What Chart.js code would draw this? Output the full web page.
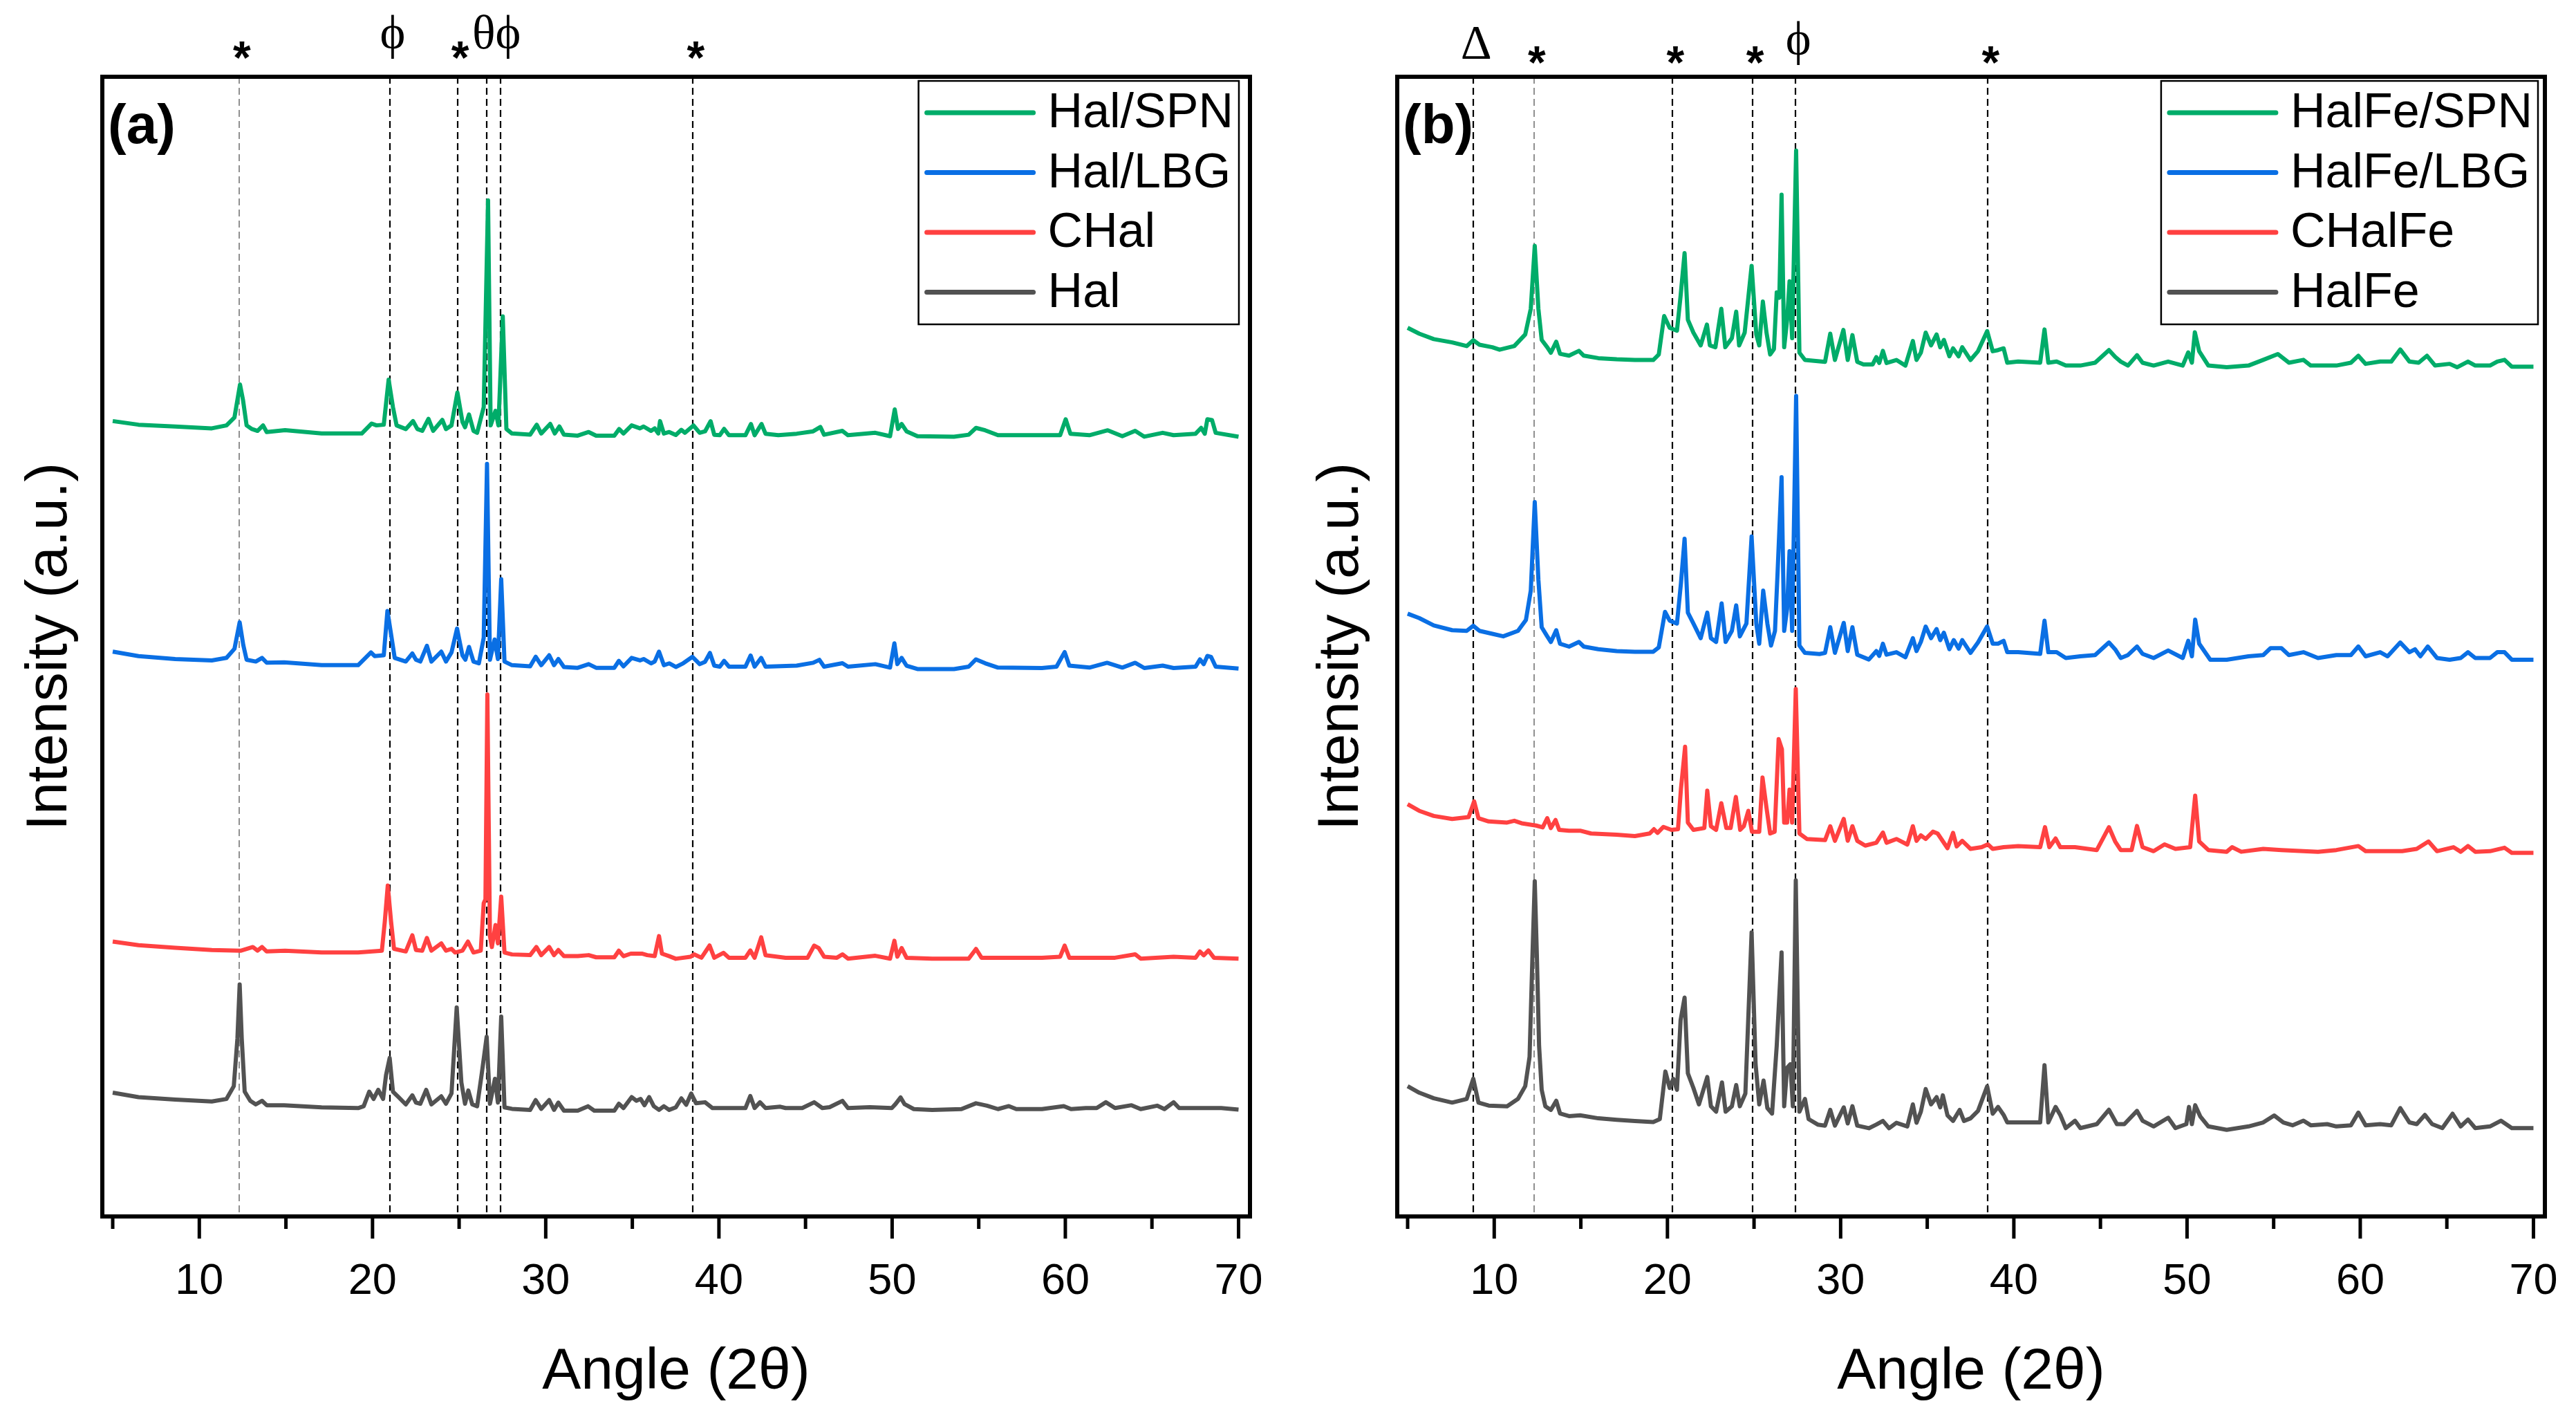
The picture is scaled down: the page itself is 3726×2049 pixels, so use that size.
<!DOCTYPE html>
<html><head><meta charset="utf-8">
<script src="https://cdn.jsdelivr.net/npm/chart.js@4.4.1/dist/chart.umd.min.js"></script>
<style>
html,body{margin:0;padding:0;background:#fff;width:3726px;height:2049px;overflow:hidden}
canvas{position:absolute;top:0}
#ca{left:0}#cb{left:1863px}
</style></head>
<body>
<canvas id="ca" width="1863" height="2049"></canvas>
<canvas id="cb" width="1863" height="2049"></canvas>
<script>
// ---------- DATA: [angle 2θ, intensity (a.u., offset-stacked)] ----------
const halSpn = [[5.0,69.79],[6.49,69.47],[8.61,69.31],[10.72,69.15],[11.57,69.41],[12.03,70.11],[12.35,73.0],[12.52,71.66],[12.73,69.41],[13.04,69.09],[13.36,68.93],[13.68,69.41],[13.89,68.83],[14.95,68.99],[17.06,68.70],[19.38,68.70],[19.95,69.57],[20.23,69.41],[20.65,69.47],[20.93,73.42],[21.18,71.01],[21.39,69.41],[21.92,69.09],[22.34,69.79],[22.59,69.09],[22.87,68.93],[23.23,69.99],[23.50,68.93],[24.03,69.89],[24.24,69.09],[24.56,69.41],[24.90,72.30],[25.19,69.73],[25.34,69.25],[25.57,70.37],[25.83,68.93],[26.04,68.76],[26.42,71.01],[26.67,89.16],[26.82,69.41],[27.10,70.69],[27.27,69.41],[27.52,78.98],[27.73,69.09],[28.05,68.70],[29.10,68.60],[29.48,69.47],[29.74,68.70],[30.26,69.54],[30.52,68.70],[30.79,69.31],[31.05,68.60],[31.85,68.51],[32.48,68.83],[32.91,68.51],[33.96,68.51],[34.24,69.09],[34.49,68.70],[34.96,69.41],[35.44,69.15],[35.65,69.31],[36.08,68.93],[36.29,69.15],[36.50,68.70],[36.60,69.79],[36.82,68.70],[37.13,68.83],[37.51,68.57],[37.83,69.02],[38.04,68.76],[38.53,69.40],[38.89,68.76],[39.20,68.89],[39.52,69.78],[39.73,68.59],[40.05,68.55],[40.30,69.10],[40.58,68.55],[41.53,68.55],[41.85,69.53],[42.06,68.55],[42.46,69.53],[42.69,68.68],[43.43,68.55],[44.49,68.68],[45.44,68.89],[45.86,69.27],[46.07,68.59],[47.13,68.93],[47.45,68.55],[49.03,68.76],[49.88,68.46],[50.15,70.81],[50.34,69.10],[50.55,69.53],[50.83,68.89],[51.46,68.46],[53.57,68.42],[54.42,68.59],[54.84,69.19],[55.37,68.98],[56.11,68.55],[58.65,68.55],[59.70,68.55],[60.02,69.95],[60.29,68.68],[61.39,68.55],[62.45,68.98],[63.29,68.46],[64.03,68.93],[64.56,68.42],[65.62,68.76],[66.25,68.55],[67.52,68.68],[67.84,69.19],[68.05,68.68],[68.20,69.95],[68.47,69.87],[68.68,68.76],[70.0,68.42]];

const halLbg = [[5.0,49.56],[6.49,49.17],[8.61,48.91],[10.72,48.79],[11.57,49.01],[12.03,49.81],[12.33,52.13],[12.54,50.13],[12.73,48.85],[13.26,48.69],[13.62,49.01],[13.89,48.59],[14.90,48.62],[17.06,48.37],[19.17,48.37],[19.91,49.49],[20.12,49.17],[20.65,49.24],[20.86,53.12],[21.07,51.10],[21.28,49.01],[21.92,48.69],[22.30,49.40],[22.51,48.85],[22.76,48.69],[23.14,50.07],[23.40,48.69],[23.97,49.56],[24.24,48.69],[24.56,49.49],[24.88,51.58],[25.19,49.24],[25.36,48.85],[25.57,49.97],[25.83,48.69],[26.14,48.53],[26.42,50.78],[26.61,66.03],[26.78,48.85],[27.05,50.62],[27.24,48.91],[27.43,55.92],[27.62,48.69],[28.05,48.37],[29.10,48.27],[29.42,49.11],[29.74,48.37],[30.20,49.24],[30.48,48.37],[30.73,48.91],[31.05,48.21],[31.85,48.14],[32.48,48.46],[32.91,48.14],[33.96,48.14],[34.22,48.75],[34.49,48.27],[34.96,49.01],[35.44,48.79],[35.65,48.91],[36.08,48.53],[36.29,48.69],[36.54,49.56],[36.82,48.37],[37.13,48.53],[37.51,48.21],[37.94,48.54],[38.47,49.10],[38.89,48.46],[39.20,48.67],[39.48,49.44],[39.73,48.33],[40.05,48.24],[40.30,48.75],[40.58,48.24],[41.53,48.24],[41.83,49.22],[42.06,48.24],[42.44,49.01],[42.69,48.24],[44.49,48.33],[45.44,48.58],[45.80,48.84],[46.07,48.24],[47.13,48.54],[47.45,48.24],[49.03,48.46],[49.88,48.16],[50.13,50.29],[50.30,48.46],[50.55,49.01],[50.83,48.33],[51.46,48.03],[53.57,48.03],[54.42,48.24],[54.84,48.88],[55.37,48.54],[56.11,48.16],[58.65,48.12],[59.49,48.24],[59.96,49.52],[60.23,48.33],[61.39,48.16],[62.41,48.58],[63.29,48.16],[64.03,48.58],[64.56,48.12],[65.62,48.33],[66.25,48.12],[67.52,48.24],[67.77,48.88],[67.99,48.46],[68.20,49.18],[68.41,49.10],[68.68,48.24],[70.0,48.07]];

const cHal = [[5.0,24.12],[6.49,23.80],[8.61,23.58],[10.72,23.38],[12.41,23.32],[13.09,23.64],[13.36,23.32],[13.62,23.64],[13.89,23.25],[14.95,23.32],[17.06,23.16],[19.17,23.16],[20.54,23.32],[20.71,25.89],[20.88,29.04],[21.07,25.89],[21.24,23.48],[21.92,23.25],[22.30,24.67],[22.51,23.38],[22.87,23.32],[23.14,24.44],[23.40,23.32],[23.97,23.96],[24.24,23.32],[24.56,23.48],[24.77,23.16],[25.19,23.32],[25.51,24.12],[25.83,23.16],[26.25,23.32],[26.42,27.49],[26.52,27.82],[26.63,45.80],[26.78,24.60],[26.89,23.64],[27.10,25.57],[27.24,23.96],[27.43,28.07],[27.62,23.16],[28.05,22.99],[29.10,22.93],[29.46,23.64],[29.74,22.93],[30.20,23.64],[30.48,22.93],[30.73,23.38],[31.05,22.84],[31.85,22.84],[32.48,22.93],[32.91,22.74],[33.96,22.74],[34.22,23.32],[34.49,22.84],[34.91,23.06],[35.55,23.06],[35.86,22.93],[36.29,22.84],[36.54,24.60],[36.71,23.06],[37.13,22.84],[37.51,22.61],[38.36,22.79],[38.57,23.00],[38.99,22.70],[39.46,23.77],[39.73,22.70],[40.26,23.13],[40.58,22.70],[41.53,22.70],[41.81,23.34],[42.06,22.70],[42.44,24.49],[42.69,22.92],[43.85,22.70],[45.12,22.70],[45.50,23.77],[45.76,23.55],[46.07,22.79],[46.81,22.70],[47.13,23.00],[47.45,22.62],[49.03,22.87],[49.88,22.62],[50.13,24.19],[50.30,22.79],[50.55,23.55],[50.83,22.70],[52.31,22.62],[54.42,22.62],[54.84,23.47],[55.16,22.70],[58.65,22.70],[59.70,22.79],[59.96,23.77],[60.23,22.70],[62.87,22.70],[64.03,23.00],[64.35,22.62],[66.25,22.79],[67.52,22.70],[67.77,23.25],[67.99,22.92],[68.26,23.34],[68.58,22.70],[70.0,22.62]];

const hal = [[5.0,10.86],[6.49,10.47],[8.61,10.25],[10.72,10.09],[11.57,10.31],[11.99,11.43],[12.20,15.61],[12.33,20.36],[12.45,15.61],[12.62,10.95],[12.94,10.15],[13.26,9.83],[13.62,10.15],[13.89,9.76],[14.90,9.76],[17.06,9.57],[19.17,9.51],[19.49,9.67],[19.81,10.95],[20.06,10.31],[20.33,11.11],[20.61,10.31],[20.78,12.40],[20.99,13.91],[21.18,10.95],[21.50,10.47],[21.92,9.83],[22.30,10.63],[22.51,9.99],[22.76,9.89],[23.10,11.11],[23.40,9.83],[23.97,10.54],[24.24,9.89],[24.56,10.79],[24.86,18.34],[25.13,11.76],[25.34,9.89],[25.53,11.05],[25.76,9.83],[26.04,9.67],[26.31,12.56],[26.59,15.77],[26.78,9.89],[27.07,12.08],[27.24,9.99],[27.43,17.54],[27.62,9.57],[28.05,9.44],[29.10,9.35],[29.42,10.21],[29.74,9.44],[30.20,10.21],[30.48,9.35],[30.73,9.99],[31.05,9.28],[31.85,9.28],[32.44,9.67],[32.80,9.28],[33.96,9.28],[34.22,9.89],[34.49,9.51],[34.96,10.47],[35.23,10.15],[35.48,10.31],[35.70,9.76],[35.97,10.47],[36.24,9.67],[36.54,9.35],[36.82,9.67],[37.13,9.35],[37.51,9.57],[37.83,10.36],[38.11,9.80],[38.40,10.78],[38.68,9.93],[39.20,10.02],[39.63,9.51],[41.53,9.51],[41.81,10.57],[42.06,9.51],[42.37,10.02],[42.69,9.51],[43.54,9.63],[43.85,9.51],[44.81,9.51],[45.50,10.02],[45.97,9.51],[46.39,9.59],[47.13,10.14],[47.45,9.51],[48.71,9.59],[49.98,9.51],[50.19,9.85],[50.49,10.44],[50.72,9.85],[51.25,9.42],[52.31,9.34],[54.0,9.42],[54.84,9.93],[55.48,9.72],[56.11,9.42],[56.74,9.68],[57.17,9.42],[58.65,9.42],[59.91,9.68],[60.33,9.42],[61.18,9.51],[61.81,9.51],[62.34,10.02],[62.87,9.51],[63.82,9.76],[64.35,9.42],[65.30,9.72],[65.72,9.42],[66.25,10.02],[66.57,9.51],[69.0,9.51],[70.0,9.38]];

const halFeSpn = [[5.0,77.97],[5.67,77.46],[6.51,76.98],[7.57,76.69],[8.41,76.37],[8.79,76.88],[9.15,76.49],[9.89,76.27],[10.31,76.05],[11.16,76.37],[11.79,77.39],[12.11,79.64],[12.34,85.17],[12.55,79.64],[12.74,76.91],[13.06,76.27],[13.27,75.79],[13.58,76.75],[13.80,75.69],[14.32,75.53],[14.89,75.95],[15.17,75.53],[16.01,75.31],[17.07,75.21],[18.12,75.15],[19.18,75.15],[19.50,75.63],[19.81,79.0],[20.13,77.97],[20.55,77.72],[20.76,80.77],[20.99,84.52],[21.18,78.68],[21.50,77.55],[21.92,76.43],[22.28,78.26],[22.45,76.43],[22.77,76.27],[23.11,79.64],[23.34,76.27],[23.72,77.07],[23.97,79.39],[24.14,76.43],[24.46,77.55],[24.86,83.40],[25.13,77.39],[25.30,76.43],[25.51,80.28],[25.72,77.55],[25.93,75.63],[26.15,76.11],[26.31,81.09],[26.46,80.61],[26.59,89.66],[26.74,76.27],[26.91,78.68],[27.05,82.05],[27.20,77.07],[27.43,93.52],[27.62,75.79],[27.94,75.15],[29.10,74.99],[29.40,77.46],[29.67,75.15],[30.16,77.78],[30.41,75.15],[30.68,77.33],[30.96,74.99],[31.32,74.76],[31.85,74.76],[32.06,75.40],[32.23,74.89],[32.44,75.95],[32.65,74.89],[33.22,75.15],[33.74,74.66],[34.17,76.82],[34.38,75.15],[34.63,75.79],[34.91,77.55],[35.22,76.43],[35.54,77.39],[35.75,76.27],[35.96,76.91],[36.28,75.47],[36.49,76.17],[36.81,75.47],[37.02,76.27],[37.50,75.15],[37.93,75.92],[38.46,77.68],[38.78,75.92],[39.09,76.02],[39.41,76.17],[39.62,74.91],[40.25,75.01],[41.52,74.91],[41.77,77.83],[41.99,74.91],[42.47,75.01],[43.0,74.66],[43.84,74.66],[44.69,74.91],[45.49,76.02],[45.85,75.42],[46.17,75.01],[46.59,74.66],[47.11,75.57],[47.43,74.91],[48.07,74.66],[48.91,75.01],[49.75,74.66],[50.07,75.82],[50.28,74.91],[50.45,77.58],[50.70,75.92],[51.23,74.66],[52.29,74.51],[53.55,74.66],[54.40,75.16],[55.24,75.67],[55.88,74.91],[56.72,75.16],[57.14,74.66],[58.62,74.66],[59.46,74.91],[59.89,75.52],[60.31,74.81],[61.15,75.01],[61.79,75.01],[62.31,76.07],[62.84,75.01],[63.37,74.91],[63.85,75.52],[64.32,74.66],[65.16,74.81],[65.59,74.51],[66.22,75.01],[66.64,74.66],[67.49,74.66],[67.91,75.01],[68.33,75.16],[68.75,74.56],[70.0,74.56]];

const halFeLbg = [[5.0,52.89],[5.67,52.50],[6.51,51.86],[7.57,51.44],[8.41,51.38],[8.79,51.83],[9.15,51.38],[9.89,51.12],[10.52,50.90],[11.37,51.38],[11.83,52.34],[12.11,54.91],[12.34,62.68],[12.55,55.87],[12.74,51.70],[13.06,50.90],[13.27,50.41],[13.58,51.44],[13.80,50.25],[14.32,50.00],[14.89,50.41],[15.17,50.00],[16.01,49.77],[17.07,49.61],[18.12,49.55],[19.18,49.55],[19.50,49.93],[19.86,53.05],[20.13,52.28],[20.55,52.02],[20.78,55.55],[20.99,59.47],[21.18,52.98],[21.50,52.02],[21.92,50.74],[22.30,52.98],[22.51,50.74],[22.81,50.41],[23.13,53.79],[23.36,50.41],[23.72,51.38],[23.97,53.62],[24.18,50.90],[24.56,52.02],[24.86,59.66],[25.13,52.02],[25.30,50.25],[25.53,54.91],[25.77,52.02],[25.98,50.09],[26.21,51.38],[26.36,56.52],[26.59,64.87],[26.74,51.38],[26.91,53.31],[27.05,58.38],[27.20,51.38],[27.43,72.0],[27.62,50.09],[27.94,49.45],[28.78,49.35],[29.10,49.45],[29.40,51.70],[29.67,49.45],[30.18,52.08],[30.41,49.61],[30.68,51.70],[30.96,49.29],[31.63,48.87],[32.06,49.61],[32.23,49.19],[32.44,50.25],[32.65,49.29],[33.22,49.51],[33.74,49.07],[34.17,50.74],[34.38,49.61],[34.63,50.41],[34.91,51.76],[35.22,50.74],[35.54,51.54],[35.75,50.57],[35.96,51.22],[36.28,49.77],[36.53,50.57],[36.81,49.83],[37.02,50.57],[37.50,49.45],[37.93,50.36],[38.46,51.77],[38.78,50.26],[39.09,50.26],[39.41,50.51],[39.62,49.51],[40.25,49.51],[41.52,49.36],[41.77,52.27],[41.99,49.51],[42.47,49.51],[43.0,49.00],[43.84,49.15],[44.69,49.26],[45.49,50.36],[45.85,49.76],[46.17,49.00],[46.59,49.26],[47.11,50.01],[47.43,49.36],[48.07,49.00],[48.91,49.66],[49.75,49.00],[50.07,50.51],[50.28,49.15],[50.47,52.37],[50.70,50.26],[51.34,48.85],[52.29,48.85],[53.55,49.15],[54.40,49.26],[54.82,49.86],[55.45,49.86],[55.88,49.26],[56.72,49.51],[57.56,49.00],[58.62,49.26],[59.46,49.26],[59.89,50.01],[60.31,49.15],[61.15,49.51],[61.58,49.15],[62.31,50.36],[62.84,49.51],[63.16,49.76],[63.47,49.15],[63.90,50.01],[64.43,49.00],[65.16,48.85],[65.80,49.00],[66.22,49.51],[66.64,49.00],[67.49,49.00],[67.91,49.51],[68.33,49.51],[68.75,48.85],[70.0,48.85]];

const cHalFe = [[5.0,36.17],[5.67,35.59],[6.51,35.14],[7.57,34.88],[8.52,35.04],[8.84,36.42],[9.09,34.95],[9.68,34.66],[10.74,34.56],[11.16,34.72],[11.58,34.50],[12.42,34.30],[12.80,34.14],[13.06,34.95],[13.27,34.08],[13.54,34.79],[13.75,33.92],[14.32,33.85],[14.96,33.85],[15.59,33.60],[17.07,33.50],[18.12,33.37],[18.97,33.60],[19.22,33.98],[19.43,33.66],[19.77,34.18],[20.23,33.92],[20.61,33.98],[20.78,37.52],[21.02,41.21],[21.18,34.56],[21.50,33.92],[22.13,34.08],[22.30,37.36],[22.51,34.24],[22.81,33.92],[23.11,36.26],[23.40,34.08],[23.65,34.08],[23.95,36.81],[24.20,33.92],[24.41,34.24],[24.67,35.59],[24.88,33.76],[25.30,33.76],[25.49,38.51],[25.72,35.85],[25.93,33.60],[26.19,33.76],[26.42,41.88],[26.61,40.99],[26.74,34.56],[26.91,34.56],[27.05,37.45],[27.20,34.56],[27.41,46.29],[27.62,33.60],[28.05,33.12],[29.10,33.02],[29.40,34.24],[29.67,32.96],[30.18,34.88],[30.41,32.96],[30.68,34.24],[30.96,32.96],[31.42,32.54],[32.06,32.79],[32.44,33.69],[32.65,32.79],[33.22,33.12],[33.85,32.63],[34.17,34.24],[34.38,32.96],[34.63,33.44],[34.91,33.12],[35.33,33.76],[35.60,33.60],[36.17,32.31],[36.49,33.66],[36.70,32.47],[37.02,32.96],[37.50,32.25],[38.14,32.40],[38.50,32.65],[38.78,32.25],[39.41,32.40],[40.25,32.50],[41.52,32.40],[41.80,34.16],[42.05,32.40],[42.41,33.16],[42.68,32.40],[43.53,32.40],[44.79,32.15],[45.49,34.16],[45.85,32.90],[46.17,32.15],[46.80,32.15],[47.11,34.26],[47.43,32.40],[48.07,32.05],[48.70,32.65],[49.33,32.25],[50.18,32.40],[50.47,36.93],[50.70,32.90],[51.23,32.15],[52.29,32.00],[52.60,32.40],[53.13,32.00],[54.40,32.25],[55.45,32.15],[57.56,32.00],[58.62,32.15],[59.89,32.50],[60.31,32.05],[62.42,32.05],[63.26,32.25],[63.94,32.90],[64.43,32.05],[65.38,32.40],[65.80,32.00],[66.22,32.50],[66.64,32.00],[67.49,32.05],[68.33,32.35],[68.75,31.90],[70.0,31.90]];

const halFe = [[5.0,11.43],[5.67,10.86],[6.51,10.37],[7.57,9.99],[8.41,10.31],[8.79,12.08],[9.09,9.99],[9.68,9.73],[10.74,9.67],[11.37,10.31],[11.79,11.43],[12.04,14.00],[12.21,23.00],[12.34,29.42],[12.46,23.00],[12.59,14.97],[12.74,11.11],[12.95,9.67],[13.27,9.35],[13.58,10.15],[13.80,9.03],[14.32,8.80],[14.96,8.87],[16.01,8.61],[17.07,8.48],[18.12,8.38],[19.18,8.29],[19.56,8.54],[19.88,12.72],[20.13,11.27],[20.34,12.08],[20.55,11.11],[20.76,17.22],[20.99,19.21],[21.18,12.56],[21.50,11.27],[21.82,9.83],[22.30,12.24],[22.51,9.67],[22.81,9.19],[23.15,11.76],[23.36,9.19],[23.72,9.67],[23.97,11.53],[24.18,9.67],[24.50,10.79],[24.86,24.93],[25.09,13.36],[25.30,9.83],[25.55,11.92],[25.77,9.51],[26.04,9.03],[26.31,14.97],[26.59,23.16],[26.74,9.67],[26.91,13.04],[27.10,13.36],[27.24,9.67],[27.41,29.49],[27.62,9.19],[27.94,10.31],[28.15,8.54],[28.68,8.06],[29.10,7.97],[29.40,9.35],[29.67,7.97],[30.18,9.57],[30.41,8.16],[30.68,9.67],[30.96,7.97],[31.63,7.74],[32.06,8.06],[32.44,8.38],[32.80,7.74],[33.22,8.22],[33.85,7.90],[34.17,9.83],[34.38,8.22],[34.63,9.19],[34.91,11.18],[35.22,9.83],[35.54,10.47],[35.75,9.57],[35.90,10.63],[36.17,8.87],[36.49,8.38],[36.87,9.35],[37.12,8.38],[37.50,8.61],[37.93,9.26],[38.46,11.42],[38.78,9.01],[39.09,9.61],[39.41,8.91],[39.62,8.25],[41.52,8.25],[41.77,13.28],[41.99,8.25],[42.41,9.61],[42.68,8.91],[43.0,7.75],[43.53,8.40],[43.84,7.75],[44.79,8.10],[45.49,9.36],[45.95,8.10],[46.38,8.10],[47.11,9.26],[47.43,8.40],[48.07,7.90],[48.91,8.66],[49.33,7.75],[49.96,8.10],[50.11,9.61],[50.28,8.10],[50.47,9.76],[50.77,8.76],[51.23,7.90],[52.29,7.60],[53.55,7.90],[54.40,8.25],[55.03,8.86],[55.56,8.25],[56.09,8.00],[56.72,8.40],[57.14,8.00],[58.09,8.10],[58.62,7.90],[59.46,8.00],[59.89,9.11],[60.31,8.00],[61.15,8.10],[61.79,8.00],[62.31,9.51],[62.84,8.25],[63.26,8.10],[63.73,8.91],[64.15,8.10],[64.74,7.75],[65.33,9.01],[65.80,7.90],[66.22,8.50],[66.64,7.75],[67.49,7.90],[68.12,8.40],[68.75,7.75],[70.0,7.75]];

// series names
const namesA = ['Hal/SPN','Hal/LBG','CHal','Hal'];
const namesB = ['HalFe/SPN','HalFe/LBG','CHalFe','HalFe'];

// x-axis tick values
const majorTicks = [10,20,30,40,50,60,70];
const minorTicks = [5,15,25,35,45,55,65];

// reference (dashed) lines and markers
const linesA = [21.0,24.9,26.6,27.4,38.5];
const faintLinesA = [12.3];
const markersA = [[12.3,'*'],[21.0,'ϕ'],[24.9,'*'],[27.0,'θϕ'],[38.5,'*']];
const linesB = [8.8,20.3,24.9,27.4,38.5];
const faintLinesB = [12.3];
const markersB = [[8.8,'Δ'],[12.3,'*'],[20.3,'*'],[24.9,'*'],[27.4,'ϕ'],[38.5,'*']];

// ---------- STYLE ----------
const COLORS = ['#00AC69','#0A6FE4','#FF4141','#525252'];
const SANS = '"Liberation Sans", Arial, sans-serif';
const SERIF = '"Liberation Serif", "DejaVu Serif", "Times New Roman", serif';

function toPts(arr){ return arr.map(p => ({x:p[0], y:p[1]})); }

function makePlugin(cfg){
  return {
    id: 'deco'+cfg.tag,
    beforeDatasetsDraw(chart){
      const ctx = chart.ctx, ca = chart.chartArea, xs = chart.scales.x;
      ctx.save();
      ctx.beginPath(); ctx.rect(ca.left, ca.top, ca.width, ca.height); ctx.clip();
      ctx.setLineDash([10,6]);
      ctx.strokeStyle = '#000'; ctx.lineWidth = 2.2;
      cfg.lines.forEach(v => { const x = Math.round(xs.getPixelForValue(v)); ctx.beginPath(); ctx.moveTo(x, ca.top); ctx.lineTo(x, ca.bottom); ctx.stroke(); });
      ctx.strokeStyle = '#555'; ctx.lineWidth = 1.3;
      cfg.faint.forEach(v => { const x = Math.round(xs.getPixelForValue(v)); ctx.beginPath(); ctx.moveTo(x, ca.top); ctx.lineTo(x, ca.bottom); ctx.stroke(); });
      ctx.restore();
    },
    afterDraw(chart){
      const ctx = chart.ctx, ca = chart.chartArea, xs = chart.scales.x;
      ctx.save();
      // frame
      ctx.strokeStyle = '#000'; ctx.lineWidth = 6; ctx.setLineDash([]);
      ctx.strokeRect(ca.left, ca.top, ca.width, ca.height);
      // ticks
      ctx.lineWidth = 5;
      majorTicks.forEach(v => { const x = xs.getPixelForValue(v); ctx.beginPath(); ctx.moveTo(x, ca.bottom); ctx.lineTo(x, ca.bottom + 32); ctx.stroke(); });
      minorTicks.forEach(v => { const x = xs.getPixelForValue(v); ctx.beginPath(); ctx.moveTo(x, ca.bottom); ctx.lineTo(x, ca.bottom + 18); ctx.stroke(); });
      // panel label
      ctx.fillStyle = '#000';
      ctx.font = 'bold 80px ' + SANS; ctx.textAlign = 'left'; ctx.textBaseline = 'middle';
      ctx.fillText(cfg.panel, ca.left + 8, ca.top + 74);
      // markers above the frame
      ctx.textAlign = 'center'; ctx.textBaseline = 'alphabetic';
      cfg.markers.forEach(([v, t]) => {
        const star = t === '*';
        ctx.font = star ? ('bold 66px ' + SANS) : ('70px ' + SERIF);
        const m = ctx.measureText(t);
        const cy = star ? cfg.starY : cfg.greekY;
        const y = cy + (m.actualBoundingBoxAscent - m.actualBoundingBoxDescent) / 2;
        ctx.fillText(t, xs.getPixelForValue(v) + 4, y);
      });
      // legend
      ctx.font = '70px ' + SANS;
      const ds = chart.data.datasets;
      const maxW = Math.max(...ds.map(d => ctx.measureText(d.label).width));
      const w = 187 + maxW + 8, h = 352;
      const x0 = ca.right - cfg.legInset - w, y0 = ca.top + 6;
      ctx.fillStyle = '#fff'; ctx.fillRect(x0, y0, w, h);
      ctx.strokeStyle = '#000'; ctx.lineWidth = 2.5; ctx.strokeRect(x0, y0, w, h);
      ds.forEach((d, i) => {
        const cy = y0 + 46 + i * 86.5;
        ctx.strokeStyle = d.borderColor; ctx.lineWidth = 7; ctx.lineCap = 'round';
        ctx.beginPath(); ctx.moveTo(x0 + 12, cy); ctx.lineTo(x0 + 166, cy); ctx.stroke();
        ctx.fillStyle = '#000'; ctx.textAlign = 'left'; ctx.textBaseline = 'middle';
        ctx.fillText(d.label, x0 + 187, cy + 2);
      });
      ctx.restore();
    }
  };
}

function makeChart(id, series, names, cfg){
  const datasets = series.map((s, i) => ({
    label: names[i], data: toPts(s), borderColor: COLORS[i], backgroundColor: COLORS[i],
    borderWidth: 6, pointRadius: 0, tension: 0, fill: false, borderJoinStyle: 'round'
  }));
  return new Chart(document.getElementById(id), {
    type: 'line',
    data: { datasets },
    options: {
      responsive: false, animation: false, devicePixelRatio: 1,
      layout: { padding: { top: 111, right: cfg.padRight, left: 0, bottom: 0 } },
      plugins: { legend: { display: false }, tooltip: { enabled: false } },
      scales: {
        x: {
          type: 'linear', min: 4.4, max: 70.66,
          afterBuildTicks: s => { s.ticks = majorTicks.map(v => ({ value: v })); },
          grid: { display: false }, border: { display: false },
          ticks: { font: { family: SANS, size: 63 }, color: '#000', padding: 49, maxRotation: 0, autoSkip: false },
          title: { display: true, text: 'Angle (2θ)', font: { family: SANS, size: 84 }, color: '#000', padding: { top: 0, bottom: 14 } },
          afterFit: s => { s.height = 290; s.paddingLeft = 0; s.paddingRight = 0; }
        },
        y: {
          type: 'linear', min: 0, max: 100,
          ticks: { display: false }, grid: { display: false }, border: { display: false },
          title: { display: true, text: 'Intensity (a.u.)', font: { family: SANS, size: 84 }, color: '#000', padding: { top: cfg.yTitlePad, bottom: 0 } },
          afterFit: s => { s.width = cfg.yWidth; s.paddingTop = 0; s.paddingBottom = 0; }
        }
      }
    },
    plugins: [makePlugin(cfg)]
  });
}

makeChart('ca', [halSpn, halLbg, cHal, hal], namesA,
  { tag: 'A', panel: '(a)', padRight: 55, yWidth: 148, yTitlePad: 22, lines: linesA, faint: faintLinesA, markers: markersA, starY: 72, greekY: 53, legInset: 16 });
makeChart('cb', [halFeSpn, halFeLbg, cHalFe, halFe], namesB,
  { tag: 'B', panel: '(b)', padRight: 45, yWidth: 158, yTitlePad: 27, lines: linesB, faint: faintLinesB, markers: markersB, starY: 79, greekY: 62, legInset: 10 });
</script>
</body></html>
